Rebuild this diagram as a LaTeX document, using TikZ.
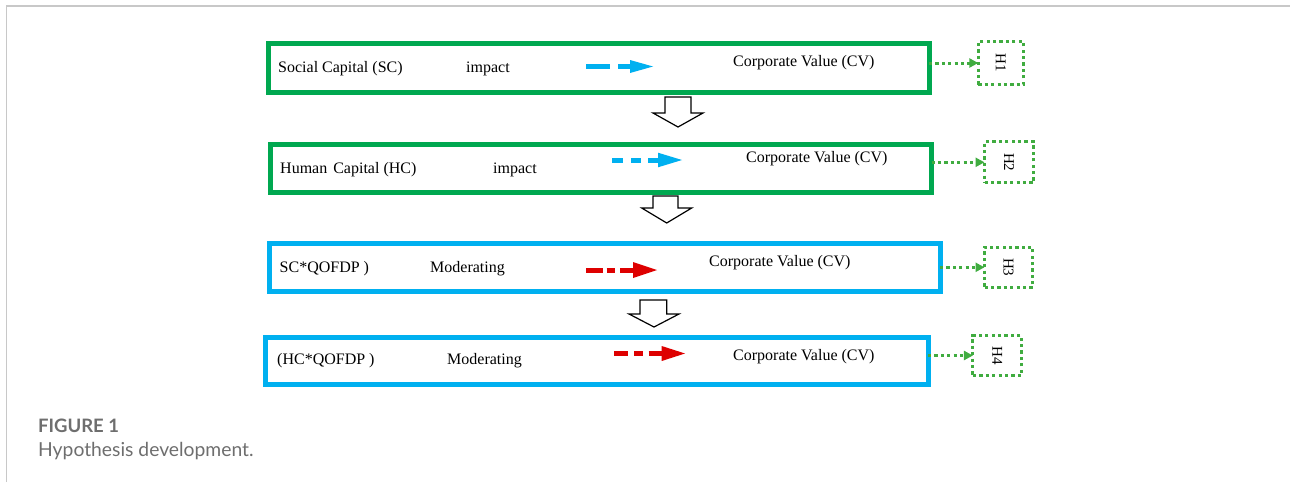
\documentclass[tikz,border=0pt]{standalone}
\usepackage{fontspec}
\setmainfont{Liberation Serif}
\newfontfamily\capfont{Lato}
\usetikzlibrary{arrows.meta}
\definecolor{boxgreen}{RGB}{0,168,80}
\definecolor{boxblue}{RGB}{0,176,240}
\definecolor{arrred}{RGB}{222,0,0}
\definecolor{dotgreen}{RGB}{64,172,64}
\definecolor{capgray}{RGB}{110,110,110}
\definecolor{framegray}{RGB}{200,200,200}
\tikzset{
  mainbox/.style={draw, line width=5pt, inner sep=0pt, outer sep=0pt, fill=white},
  hbox/.style={draw=dotgreen, line width=3pt, dash pattern=on 3.2pt off 3.2pt, inner sep=0pt, outer sep=0pt, font=\fontsize{15}{15}\selectfont},
  lbl/.style={anchor=west, inner sep=0pt, font=\fontsize{16}{16}\selectfont},
  dotarrow/.style={draw=dotgreen, line width=3pt, dash pattern=on 3.2pt off 3.2pt, -{Triangle[length=9pt,width=9pt]}},
  hollow/.style={draw=black, line width=1.2pt, fill=white, line join=miter},
  colarrow/.style={line width=5pt},
}
\begin{document}
\begin{tikzpicture}[x=1pt,y=-1pt]
\useasboundingbox (0,0) rectangle (1290,482);
\draw[framegray, line width=1.5pt] (6.7,482) -- (6.7,5.8) -- (1290,5.8);

% main boxes
\node[mainbox, draw=boxgreen, minimum width=661pt, minimum height=48.5pt] (b1) at (598.5,67.75) {};
\node[mainbox, draw=boxgreen, minimum width=661.5pt, minimum height=48.5pt] (b2) at (600.75,168.25) {};
\node[mainbox, draw=boxblue, minimum width=671pt, minimum height=47.5pt] (b3) at (604.5,267.25) {};
\node[mainbox, draw=boxblue, minimum width=663pt, minimum height=47.5pt] (b4) at (596.5,360.75) {};

% labels
\node[lbl] (t1a) at (278,68.5) {Social Capital (SC)};
\node[lbl] (t1b) at (466,69) {impact};
\node[lbl] (t1c) at (733,62.5) {Corporate Value (CV)};
\node[lbl] (t2a) at (280,169.5) {Human\hskip 6pt Capital (HC)};
\node[lbl] (t2b) at (493,169.5) {impact};
\node[lbl] (t2c) at (746,159) {Corporate Value (CV)};
\node[lbl] (t3a) at (279.5,269) {SC*QOFDP )};
\node[lbl] (t3b) at (430,268.5) {Moderating};
\node[lbl] (t3c) at (709,263) {Corporate Value (CV)};
\node[lbl] (t4a) at (277,361) {(HC*QOFDP )};
\node[lbl] (t4b) at (447,361) {Moderating};
\node[lbl] (t4c) at (733,357) {Corporate Value (CV)};

% coloured arrows
\draw[colarrow, boxblue, dash pattern=on 24pt off 8pt] (586,66.5) -- (630,66.5);
\fill[boxblue] (630,60) -- (653,66.5) -- (630,73) -- cycle;
\draw[colarrow, boxblue, dash pattern=on 11pt off 8pt on 10pt off 7pt] (612,160) -- (659,160);
\fill[boxblue] (658,152.7) -- (682,160) -- (658,167.3) -- cycle;
\draw[colarrow, arrred, dash pattern=on 16.5pt off 4pt on 8.5pt off 5pt] (586,270) -- (634,270);
\fill[arrred] (633,262) -- (657,270) -- (633,278) -- cycle;
\draw[colarrow, arrred, dash pattern=on 14pt off 6pt on 8.5pt off 6pt] (614,353.5) -- (662,353.5);
\fill[arrred] (661.7,346) -- (685,353.5) -- (661.7,361) -- cycle;

% hypothesis boxes
\node[hbox, minimum width=45pt, minimum height=43pt] (h1) at (1000.8,63) {\rotatebox{-90}{H1}};
\node[hbox, minimum width=49pt, minimum height=41pt] (h2) at (1009,162.3) {\rotatebox{-90}{H2}};
\node[hbox, minimum width=48pt, minimum height=40.5pt] (h3) at (1008.5,267.3) {\rotatebox{-90}{H3}};
\node[hbox, minimum width=48.5pt, minimum height=40pt] (h4) at (997.2,355.5) {\rotatebox{-90}{H4}};

\draw[dotarrow] (h1.west -| b1.east) -- (h1.west);
\draw[dotarrow] (h2.west -| b2.east) -- (h2.west);
\draw[dotarrow] (h3.west -| b3.east) -- (h3.west);
\draw[dotarrow] (h4.west -| b4.east) -- (h4.west);

% hollow down arrows
\draw[hollow] (665,97) -- (691,97) -- (691,113) -- (703,113) -- (678,127) -- (653,113) -- (665,113) -- cycle;
\draw[hollow] (653,196) -- (678,196) -- (678,208) -- (691.7,208) -- (666.7,223) -- (641.7,208) -- (653,208) -- cycle;
\draw[hollow] (640,300) -- (666.7,300) -- (666.7,314) -- (679,314) -- (654,327) -- (629,314) -- (640,314) -- cycle;

% caption
\node[anchor=west, inner sep=0pt, text=capgray, font=\capfont\bfseries\fontsize{18.5}{18.5}\selectfont] (cap1) at (38,425.5) {FIGURE 1};
\node[anchor=west, inner sep=0pt, text=capgray, font=\capfont\fontsize{19.3}{19.3}\selectfont] (cap2) at (38,451) {Hypothesis development.};
\end{tikzpicture}
\end{document}
